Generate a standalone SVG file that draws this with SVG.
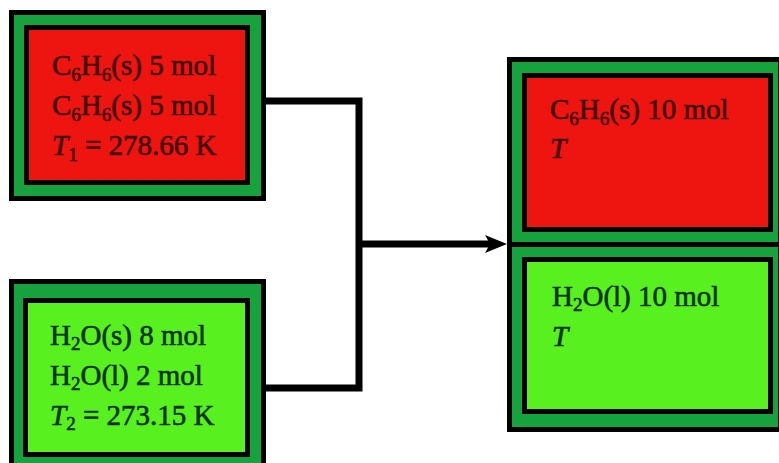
<svg xmlns="http://www.w3.org/2000/svg" width="779" height="463" viewBox="0 0 779 463">
  <style>
    .frame { fill: #16a23c; stroke: #000; stroke-width: 5; }
    .solid { fill: #ee1410; stroke: #000; stroke-width: 5; }
    .liquid { fill: #58f01e; stroke: #000; stroke-width: 5; }
    .lbl { font-family: "Liberation Serif", "Times New Roman", serif; font-size: 29px; stroke-width: 0.6; }
    .lbl-red { fill: #3e0604; stroke: #3e0604; }
    .lbl-green { fill: #0a330b; stroke: #0a330b; }
    .sub { font-size: 19px; }
    .it { font-style: italic; }
    .wire { fill: none; stroke: #000; stroke-width: 7; stroke-linejoin: miter; }
  </style>
  <defs>
    <marker id="arrowhead" markerUnits="userSpaceOnUse" viewBox="0 0 22 18" refX="7" refY="9" markerWidth="22" markerHeight="18" orient="auto">
      <path d="M0,0 L22,9 L0,18 L5,9 z" fill="#000"/>
    </marker>
  </defs>
  <rect width="779" height="463" fill="#fff"/>

  <!-- connectors -->
  <g id="connectors">
    <polyline class="wire" points="266,101 359,101 359,388 266,388"/>
    <line class="wire" x1="359" y1="244" x2="492" y2="244" marker-end="url(#arrowhead)"/>
  </g>

  <!-- benzene, initial state -->
  <g id="benzene-initial">
    <rect class="frame" x="11.5" y="12.5" width="252" height="186"/>
    <rect class="solid" x="26.5" y="27.5" width="221" height="155"/>
    <text class="lbl lbl-red" x="52" y="75">C<tspan class="sub" dy="6">6</tspan><tspan dy="-6">H</tspan><tspan class="sub" dy="6">6</tspan><tspan dy="-6">(s) 5 mol</tspan></text>
    <text class="lbl lbl-red" x="52" y="115">C<tspan class="sub" dy="6">6</tspan><tspan dy="-6">H</tspan><tspan class="sub" dy="6">6</tspan><tspan dy="-6">(s) 5 mol</tspan></text>
    <text class="lbl lbl-red" x="52" y="155"><tspan class="it">T</tspan><tspan class="sub" dy="6">1</tspan><tspan dy="-6"> = 278.66 K</tspan></text>
  </g>

  <!-- water, initial state -->
  <g id="water-initial">
    <rect class="frame" x="11.5" y="281.5" width="252" height="186"/>
    <rect class="liquid" x="25.5" y="300.5" width="222" height="154"/>
    <text class="lbl lbl-green" x="50" y="345">H<tspan class="sub" dy="5">2</tspan><tspan dy="-5">O(s) 8 mol</tspan></text>
    <text class="lbl lbl-green" x="50" y="385">H<tspan class="sub" dy="5">2</tspan><tspan dy="-5">O(l) 2 mol</tspan></text>
    <text class="lbl lbl-green" x="50" y="425"><tspan class="it">T</tspan><tspan class="sub" dy="5">2</tspan><tspan dy="-5"> = 273.15 K</tspan></text>
  </g>

  <!-- benzene, final state -->
  <g id="benzene-final">
    <rect class="frame" x="509.5" y="59.5" width="271" height="185"/>
    <rect class="solid" x="524.5" y="75.5" width="246" height="154"/>
    <text class="lbl lbl-red" x="550" y="119">C<tspan class="sub" dy="6">6</tspan><tspan dy="-6">H</tspan><tspan class="sub" dy="6">6</tspan><tspan dy="-6">(s) 10 mol</tspan></text>
    <text class="lbl lbl-red it" x="550" y="158">T</text>
  </g>

  <!-- water, final state -->
  <g id="water-final">
    <rect class="frame" x="509.5" y="244.5" width="271" height="185"/>
    <rect class="liquid" x="524.5" y="259.5" width="246" height="152"/>
    <text class="lbl lbl-green" x="552" y="306">H<tspan class="sub" dy="5">2</tspan><tspan dy="-5">O(l) 10 mol</tspan></text>
    <text class="lbl lbl-green it" x="552" y="346">T</text>
  </g>
</svg>
